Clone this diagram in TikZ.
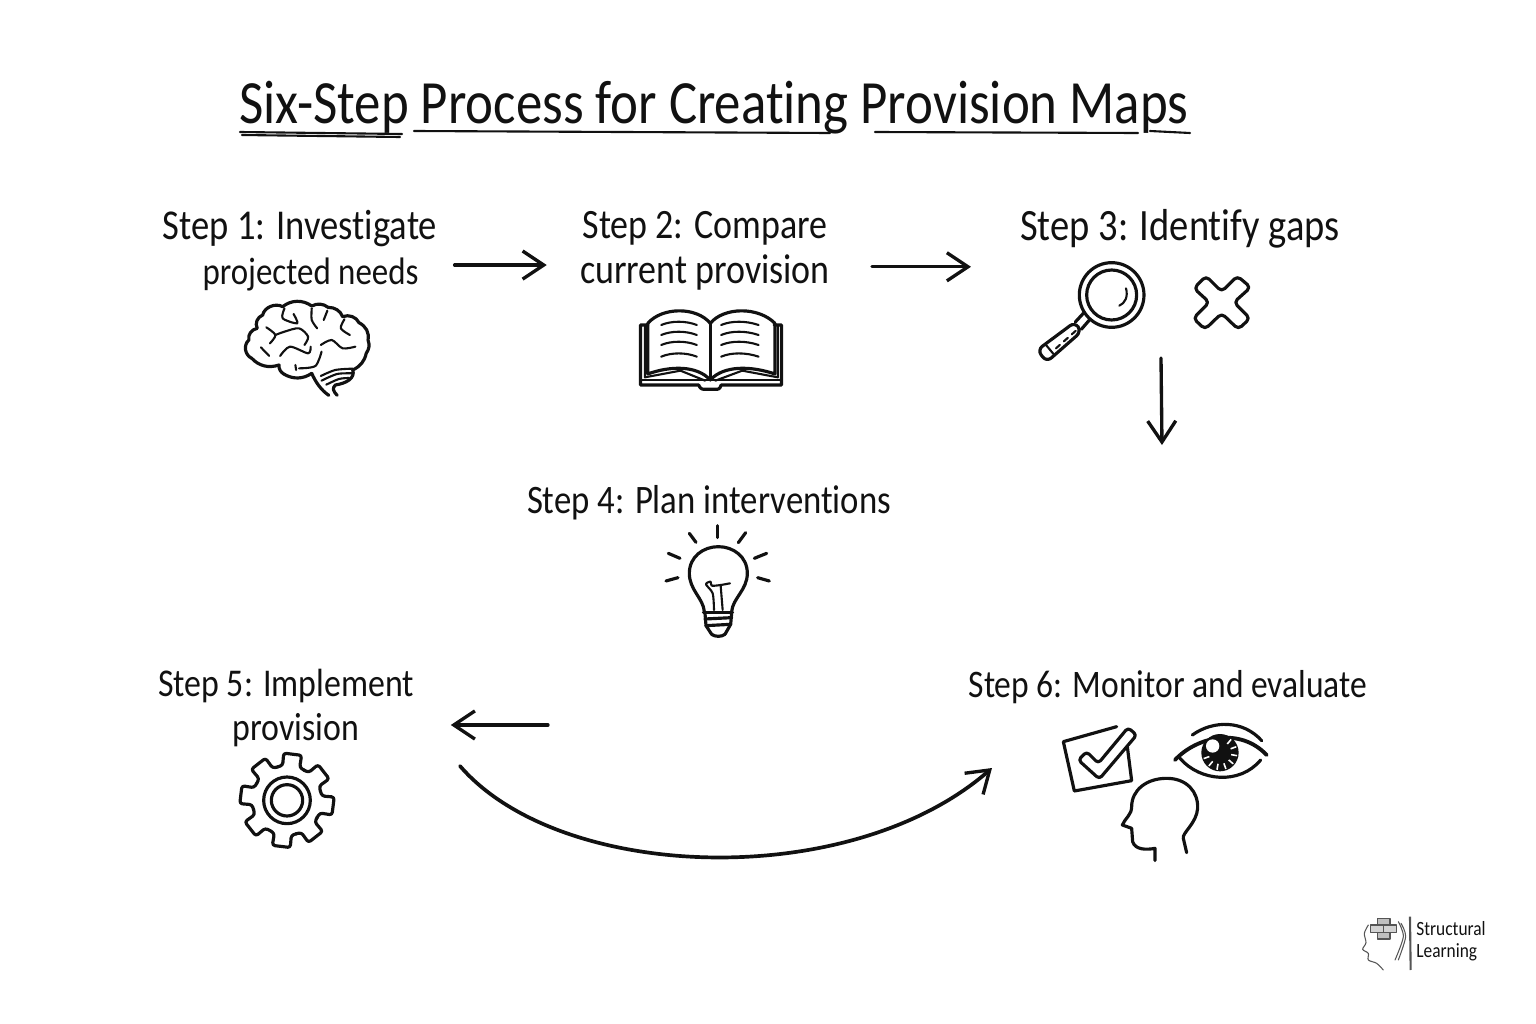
\documentclass[tikz,border=0pt]{standalone}
\usepackage{fontspec}
\setmainfont[FakeStretch=0.86,Ligatures=NoCommon]{Carlito}
\usetikzlibrary{arrows.meta}
\usetikzlibrary{positioning}
\definecolor{ink}{HTML}{111111}
\definecolor{logogray}{HTML}{555555}
\tikzset{>={Straight Barb[length=12pt,width=16pt,line width=1.9pt]},
  hand/.style={draw=ink,line width=1.8pt,line cap=round,line join=round},
  thinhand/.style={draw=ink,line width=1.2pt,line cap=round,line join=round},
  logoline/.style={draw=logogray,line width=0.6pt,line cap=round,line join=round},
  steptext/.style={align=center,text=ink,inner sep=0pt,outer sep=8pt,
    font=\fontsize{#1}{25.5}\selectfont},
  steptext/.default=23.5,
  icon/.style={shift={#1},scale=0.3333}}

\begin{document}
\begin{tikzpicture}[x=0.02cm,y=-0.02cm,node distance=8.1cm]
    \useasboundingbox (0,0) rectangle (1536,1024);

    \node (title) at (714,108) [text=ink,inner sep=0pt,font=\fontsize{35}{40}\selectfont] {Six-Step Process for Creating Provision Maps};
    \draw[thinhand] (240,132) -- (402,134);
    \draw[thinhand] (242,135) -- (400,137);
    \draw[thinhand] (414,131) -- (830,133);
    \draw[thinhand] (875,132) -- (1138,133);
    \draw[thinhand] (1150,131) -- (1190,133);

    \node (s1) at (300,251) [steptext=24.2] {Step 1: Investigate\\\hspace*{12pt}{\fontsize{21.8}{25.5}\selectfont projected needs}};
    \node (s2) [steptext=23.8,right of=s1] {Step 2: Compare\\current provision};
    \node (s3) at (1180,229) [steptext=25.5] {Step 3: Identify gaps};
    \node (s4) at (709,503) [steptext=23] {Step 4: Plan interventions};
    \node (s5) at (286,708) [steptext=22.4] {Step 5: Implement\\\hspace*{11pt}provision};
    \node (s6) at (1168,687) [steptext=22.2] {Step 6: Monitor and evaluate};

    \coordinate (d3) at (1161,358);
    \coordinate (d4) at (1162,445);
    \coordinate (d5) at (548,725);
    \coordinate (d6) at (460,766);
    \coordinate (d7) at (992,768);

    \draw[->,hand,line width=1.9pt,shorten <=2pt,shorten >=11pt] ([yshift=-8pt]s1.east) -- ([yshift=-8pt]s2.west);
    \draw[->,hand,line width=1.9pt,shorten <=16pt,shorten >=20pt] ([yshift=-9pt]s2.east) -- ([yshift=-9pt]s3.west |- s2.east);
    \draw[->,hand,line width=1.9pt] (d3) -- (d4);
    \draw[->,hand,line width=1.9pt,shorten >=13pt] (d5) -- (s5.east |- d5);
    \draw[->,hand,line width=2.1pt] (d6) .. controls (560,882) and (850,892) .. (d7);

    % brain
    \begin{scope}[icon={(230,290)},xscale=1.09]
      \draw[hand] (60,205) to[bend left=55] (52,150) to[bend left=45] (75,115) to[bend left=45] (90,75) to[bend left=55] (145,50)
        to[bend left=40] (225,48) to[bend left=35] (270,52) to[bend left=35] (310,80) to[bend left=45] (355,98) to[bend left=35] (380,150)
        to[bend left=25] (375,190) to[bend left=25] (338,240);
      \draw[hand] (338,240) .. controls (345,265) and (320,280) .. (290,285) .. controls (280,295) and (285,305) .. (295,316);
      \draw[hand] (272,316) .. controls (250,300) and (235,275) .. (225,250);
      \draw[hand] (225,250) to[bend left=35] (148,252) to[bend left=30] (135,225) to[bend left=35] (60,205);
      \draw[thinhand] plot[smooth] coordinates {(250,258) (290,240) (338,236)};
      \draw[thinhand] plot[smooth] coordinates {(252,272) (295,252) (338,250)};
      \draw[thinhand] plot[smooth] coordinates {(265,284) (300,267) (328,264)};
      \draw[thinhand] plot[smooth] coordinates {(100,112) (125,135) (110,160)};
      \draw[thinhand] plot[smooth] coordinates {(125,135) (150,125) (190,115) (215,140) (205,165)};
      \draw[thinhand] plot[smooth] coordinates {(150,55) (145,85) (185,100) (175,72)};
      \draw[thinhand] plot[smooth] coordinates {(225,55) (225,90) (240,115)};
      \draw[thinhand] plot[smooth] coordinates {(268,62) (258,90)};
      \draw[thinhand] plot[smooth] coordinates {(315,88) (305,115) (330,135)};
      \draw[thinhand] plot[smooth] coordinates {(250,165) (280,150) (310,175) (345,170)};
      \draw[thinhand] plot[smooth] coordinates {(138,198) (165,170) (215,190) (222,170)};
      \draw[thinhand] plot[smooth] coordinates {(85,172) (108,198)};
      \draw[thinhand] plot[smooth] coordinates {(252,185) (235,228) (190,235)};
      \draw[thinhand] (180,225) -- (182,240);
    \end{scope}

    % book
    \begin{scope}[icon={(230,290)},xscale=1.09]
      \draw[hand] (1150,105) -- (1130,105) -- (1130,285) -- (1290,285) .. controls (1295,298) and (1300,298) .. (1310,298)
        -- (1335,298) .. controls (1345,298) and (1348,298) .. (1352,285) -- (1518,285) -- (1518,105) -- (1498,105);
      \draw[hand] (1150,100) -- (1150,252) .. controls (1210,228) and (1285,225) .. (1322,270)
        .. controls (1360,225) and (1435,228) .. (1500,252) -- (1500,100);
      \draw[hand] (1150,100) .. controls (1190,50) and (1285,50) .. (1322,100)
        .. controls (1360,50) and (1455,50) .. (1500,100);
      \draw[hand] (1322,100) -- (1322,270);
      \draw[thinhand] (1142,108) -- (1142,262) -- (1240,242) -- (1308,272);
      \draw[thinhand] (1508,108) -- (1508,262) -- (1410,242) -- (1336,272);
      \draw[thinhand] (1130,270) -- (1518,270);
      \foreach \ya in {100,130,160,195} {
        \draw[thinhand] (1187,\ya+5) .. controls (1215,\ya-8) and (1255,\ya-8) .. (1285,\ya+5);
        \draw[thinhand] (1352,\ya+5) .. controls (1380,\ya-8) and (1420,\ya-8) .. (1455,\ya+5);
      }
    \end{scope}

    % magnifier and cross
    \begin{scope}[icon={(1020,250)}]
      \draw[hand] (275,135) circle [radius=97];
      \draw[hand] (275,135) circle [radius=75];
      \draw[thinhand] (318,115) .. controls (325,140) and (315,160) .. (298,167);
      \draw[hand] (190,190) -- (166,216);
      \draw[hand] (210,208) -- (184,238);
      \draw[hand,rounded corners=3.5pt] (52,300) -- (80,336) -- (184,245) -- (165,216) -- cycle;
      \draw[thinhand] (78,285) -- (103,315);
      \draw[thinhand,dashed] (108,295) -- (170,240);
      \draw[hand,rounded corners=2.5pt] (522,115) -- (558,78) -- (605,125) -- (652,78) -- (692,112) -- (642,157) -- (690,205)
        -- (655,238) -- (605,190) -- (555,238) -- (520,205) -- (568,157) -- cycle;
    \end{scope}

    % bulb
    \begin{scope}[icon={(650,515)}]
      \draw[hand] (202,32) -- (202,68);
      \draw[hand] (118,55) -- (138,82);
      \draw[hand] (287,53) -- (265,83);
      \draw[hand] (55,115) -- (90,130);
      \draw[hand] (350,115) -- (313,130);
      \draw[hand] (48,198) -- (84,188);
      \draw[hand] (358,198) -- (323,188);
      \draw[hand] (163,290) .. controls (160,250) and (118,225) .. (118,175) .. controls (118,125) and (160,95) .. (205,95)
        .. controls (250,95) and (292,125) .. (292,175) .. controls (292,225) and (248,250) .. (245,290);
      \draw[hand] (160,292) -- (248,292);
      \draw[hand] (165,312) -- (245,308);
      \draw[hand] (168,332) -- (242,328);
      \draw[hand] (185,358) .. controls (195,366) and (215,366) .. (225,358);
      \draw[hand] (165,295) -- (168,332) -- (185,358);
      \draw[hand] (245,295) -- (242,328) -- (225,358);
      \draw[thinhand] plot[smooth] coordinates {(192,285) (188,235) (168,208) (182,200) (185,212) (212,210) (240,205)};
      \draw[thinhand] (218,285) -- (212,212);
    \end{scope}

    % gear
    \begin{scope}[icon={(222,747)}]
      \begin{scope}[shift={(195,160)}]
        \foreach \a in {7,52,97,142,187,232,277,322} {
          \draw[hand,rounded corners=1.5pt] (\a-23:104) -- (\a-14:106) -- (\a-11:142) -- (\a+11:142) -- (\a+14:106) -- (\a+23:104);
        }
        \draw[hand] (0,0) circle [radius=70];
        \draw[hand] (0,0) circle [radius=47];
      \end{scope}
    \end{scope}

    % check box, eye, head
    \begin{scope}[icon={(1040,710)}]
      \draw[hand] (230,50) -- (70,95) -- (103,243) -- (275,212) -- (262,110);
      \draw[hand,rounded corners=2pt,fill=white] (115,150) -- (140,125) -- (175,160) -- (264,53) -- (290,75) -- (178,207) -- cycle;
      \draw[hand,line width=2.2pt] (405,150) .. controls (470,80) and (600,50) .. (680,135);
      \draw[hand] (457,75) .. controls (520,30) and (610,30) .. (665,92);
      \draw[hand] (420,145) .. controls (480,215) and (600,225) .. (662,150);
      \fill[ink] (540,128) circle [radius=56];
      \begin{scope}[shift={(540,128)}]
        \foreach \a in {-50,-20,10,40,70,100,130,160} {
          \draw[white,line width=0.9pt] (\a:34) -- (\a:52);
        }
      \end{scope}
      \fill[white] (518,108) circle [radius=20];
      \draw[hand] (345,452) -- (345,415) .. controls (320,420) and (285,420) .. (278,395) -- (275,355) -- (247,345)
        .. controls (255,325) and (275,315) .. (275,290) .. controls (275,240) and (320,205) .. (380,205)
        .. controls (440,205) and (475,245) .. (473,295) .. controls (470,340) and (425,370) .. (430,385) -- (440,428);
    \end{scope}

    % logo
    \begin{scope}[icon={(1340,900)}]
      \draw[logoline] plot[smooth] coordinates {(85,75) (73,100) (78,128) (68,148) (85,160) (85,180) (110,190) (130,210)};
      \draw[logoline,fill=gray!50] (112,55) rectangle (150,75);
      \draw[logoline,fill=gray!35] (92,75) rectangle (130,97);
      \draw[logoline,fill=gray!35] (130,75) rectangle (170,97);
      \draw[logoline,fill=gray!50] (112,97) rectangle (150,117);
      \draw[logoline] plot[smooth] coordinates {(175,65) (190,110) (165,180)};
      \draw[logoline] plot[smooth] coordinates {(183,70) (197,110) (175,180)};
      \draw[logogray,line width=1.2pt] (210,50) -- (212,210);
    \end{scope}
    \node (logo) at (1451,941) [align=left,text=ink,inner sep=0pt,font=\fontsize{11.5}{12.5}\selectfont] {Structural\\Learning};
  \end{tikzpicture}
\end{document}
